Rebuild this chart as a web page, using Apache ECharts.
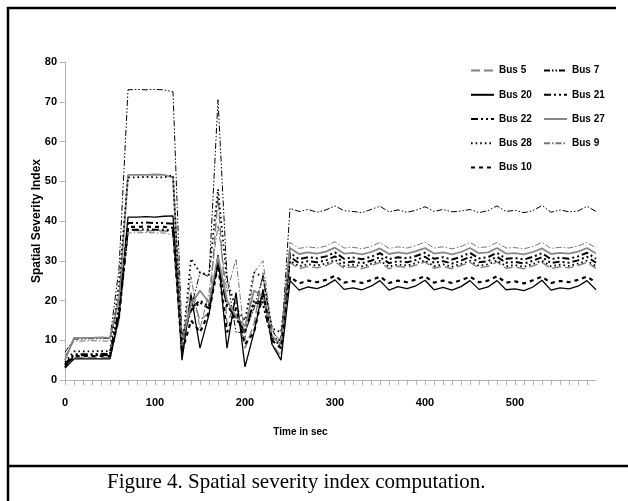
<!DOCTYPE html>
<html><head><meta charset="utf-8">
<script src="https://cdn.jsdelivr.net/npm/echarts@6/dist/echarts.min.js"></script>
<style>html,body{margin:0;padding:0;background:#fff}#c{width:628px;height:501px}</style>
</head><body><div id="c"></div>
<script>
const times = [0,10,20,30,40,50,60,70,80,90,100,110,120,130,140,150,160,170,180,190,200,210,220,230,240,
  250,260,270,280,290,300,310,320,330,340,350,360,370,380,390,400,410,420,430,440,450,460,470,480,490,
  500,510,520,530,540,550,560,570,580,590];
const yTicks = [0,10,20,30,40,50,60,70,80];
const xLabels = [0,100,200,300,400,500];

const bus5 = [3.5,5.6,5.6,5.7,5.6,5.6,15,37.6,37.6,37.5,37.6,37.5,37.2,
  6,22,15,17,46,14,20,8,14,27,9,6,
  29.6,28.0,28.6,28.2,28.8,29.8,28.1,28.5,28.0,28.7,29.6,28.0,28.6,28.3,28.9,29.7,28.1,28.6,28.0,28.8,29.6,28.2,28.6,29.7,28.1,28.4,28.0,28.7,29.6,28.0,28.5,28.2,28.8,29.6,28.1];
const bus7 = [7.0,10.3,10.3,10.4,10.4,10.5,28,73.0,73.1,73.0,73.1,73.0,72.5,
  11,18,27,26,70.5,26,12,12,18,26,13,8,
  43.2,42.4,42.9,42.2,42.8,43.8,42.6,42.4,42.1,42.9,43.7,42.3,42.8,42.2,42.7,43.6,42.4,42.9,42.3,42.5,42.9,42.1,42.6,43.8,42.4,42.7,42.1,42.6,43.9,42.2,42.8,42.3,42.5,43.7,42.4];
const bus20 = [3.0,5.3,5.3,5.3,5.3,5.3,16,41.0,41.0,41.1,41.0,41.2,41.3,
  5,21.5,8,16.5,31.5,8,22,3.3,12,22.8,9,5,
  25.0,22.6,23.4,23.0,23.8,25.2,22.8,23.2,22.7,23.6,25.0,22.6,23.5,23.0,23.7,25.1,22.7,23.3,22.6,23.5,25.0,22.8,23.4,25.0,22.7,22.9,22.5,23.4,25.1,22.6,23.2,22.9,23.6,25.0,22.7];
const bus21 = [4.0,6.5,6.5,6.5,6.6,6.5,18,39.5,39.5,39.6,39.5,39.5,39.3,
  10,18,20,18.5,30,19,15.5,12,20,19.5,10,9,
  32.0,30.4,30.9,30.6,31.1,32.1,30.5,30.8,30.4,31.0,31.9,30.4,30.9,30.6,31.2,32.0,30.5,30.9,30.3,31.0,32.0,30.6,30.9,32.0,30.5,30.7,30.3,31.0,31.9,30.4,30.8,30.5,31.1,32.0,30.5];
const bus22 = [3.8,6.2,6.2,6.2,6.3,6.2,17,37.8,37.8,37.9,37.8,37.8,37.6,
  10,17.5,19.5,18,29.5,18.5,16,12,19.5,19,10.5,10,
  31.0,29.4,29.9,29.6,30.1,31.1,29.5,29.8,29.4,30.0,30.9,29.4,29.9,29.6,30.2,31.0,29.5,29.9,29.3,30.0,31.0,29.6,29.9,31.0,29.5,29.7,29.3,30.0,30.9,29.4,29.8,29.5,30.1,31.0,29.5];
const bus27 = [5.0,10.6,10.6,10.6,10.7,10.6,20,51.6,51.6,51.6,51.7,51.6,51.0,
  9.5,19,22.5,19.5,31,20,16,13.5,22.5,21,11,9,
  33.2,31.7,32.1,31.8,32.3,33.3,31.8,32.0,31.6,32.2,33.1,31.7,32.1,31.8,32.4,33.2,31.8,32.1,31.6,32.2,33.2,31.9,32.1,33.2,31.8,31.9,31.6,32.2,33.1,31.7,32.0,31.8,32.3,33.2,31.8];
const bus28 = [4.5,7.2,7.2,7.2,7.3,7.2,24,51.0,51.0,51.1,51.0,51.0,51.5,
  7,30.5,27,26.5,48,25,18,15,27,26,13,12,
  30.0,28.6,29.1,28.8,29.3,30.2,28.7,29.0,28.6,29.2,30.0,28.5,29.1,28.8,29.4,30.1,28.6,29.1,28.5,29.2,30.0,28.7,29.1,30.1,28.6,28.9,28.5,29.2,30.0,28.6,29.0,28.7,29.3,30.0,28.6];
const bus9 = [6.0,9.8,9.8,9.9,9.8,9.8,22,37.0,37.0,37.1,37.0,37.0,36.5,
  8,26,13,22,39,22,30.5,10,27,30,12,10,
  34.6,33.1,33.5,33.2,33.7,34.8,33.2,33.4,33.0,33.6,34.6,33.1,33.5,33.2,33.8,34.7,33.2,33.5,33.0,33.6,34.6,33.3,33.5,34.6,33.2,33.3,33.0,33.6,34.6,33.1,33.4,33.2,33.7,34.6,33.2];
const bus10 = [3.2,6.0,6.0,6.0,6.1,6.0,16,38.5,38.5,38.6,38.5,38.5,38.3,
  7,15,12,17,29,12,18,9,12,22,10,8,
  26.0,24.3,25.0,24.6,25.2,26.2,24.5,24.9,24.4,25.1,26.0,24.4,25.0,24.6,25.3,26.1,24.5,25.0,24.4,25.1,26.0,24.6,25.0,26.1,24.5,24.8,24.3,25.1,26.0,24.4,24.9,24.6,25.2,26.0,24.5];

const FONT = "'Liberation Sans Narrow','Liberation Sans',sans-serif";
const pair = arr => times.map((t, i) => [t, arr[i]]);
function mk(name, arr, color, width, type) {
  return { name, type: 'line', data: pair(arr), symbol: 'none', showSymbol: false,
    lineStyle: { color, width, type }, itemStyle: { color }, z: 3 };
}
const series = [
  mk('Bus 5', bus5, '#808080', 1.4, [9, 4]),
  mk('Bus 7', bus7, '#000', 1, [6, 2, 1.5, 2, 1.5, 2]),
  mk('Bus 20', bus20, '#000', 1.3, 'solid'),
  mk('Bus 21', bus21, '#000', 2, [7, 3, 2, 3, 2, 3]),
  mk('Bus 22', bus22, '#000', 2, [7, 3, 2, 3, 2, 3]),
  mk('Bus 27', bus27, '#888', 1.8, 'solid'),
  mk('Bus 28', bus28, '#000', 1.8, [1.6, 3]),
  mk('Bus 9', bus9, '#777', 1, [6, 2, 1.5, 2]),
  mk('Bus 10', bus10, '#000', 2.2, [4, 4])
];

const chart = echarts.init(document.getElementById('c'), null, { renderer: 'canvas' });
const legendCommon = { orient: 'vertical', itemWidth: 23, itemHeight: 14, itemGap: 13, padding: 0,
  itemStyle: { opacity: 0, borderWidth: 0 },
  textStyle: { fontFamily: FONT, fontWeight: 'bold', fontSize: 10, color: '#000' } };
chart.setOption({
  animation: false,
  backgroundColor: '#fff',
  grid: { left: 65, right: 32, top: 62, bottom: 121, containLabel: false },
  legend: [
    Object.assign({ left: 470, top: 65, data: ['Bus 5', 'Bus 20', 'Bus 22', 'Bus 28', 'Bus 10'] }, legendCommon),
    Object.assign({ left: 543, top: 65, data: ['Bus 7', 'Bus 21', 'Bus 27', 'Bus 9'] }, legendCommon)
  ],
  title: {
    text: 'Figure 4. Spatial severity index computation.',
    left: 107, top: 472, padding: 0,
    textStyle: { fontFamily: "'Liberation Serif','Times New Roman',serif", fontWeight: 'normal', fontSize: 21, color: '#000' }
  },
  xAxis: {
    type: 'value', min: 0, max: 590, interval: 10,
    name: 'Time in sec', nameLocation: 'middle', nameGap: 47,
    nameTextStyle: { fontFamily: FONT, fontWeight: 'bold', fontSize: 10, color: '#000', padding: [0, 60, 0, 0] },
    axisLine: { show: true, lineStyle: { color: '#b3b3b3', width: 1 } },
    axisTick: { show: true, length: 5, inside: false, lineStyle: { color: '#b3b3b3' } },
    axisLabel: { margin: 17, fontFamily: FONT, fontWeight: 'bold', fontSize: 11, color: '#000',
      formatter: v => (xLabels.indexOf(v) >= 0 ? String(v) : ''), showMaxLabel: false },
    splitLine: { show: false }
  },
  yAxis: {
    type: 'value', min: 0, max: 80, interval: 10,
    name: 'Spatial Severity Index', nameLocation: 'middle', nameGap: 22, nameMoveOverlap: false,
    nameTextStyle: { fontFamily: FONT, fontWeight: 'bold', fontSize: 12, color: '#000' },
    axisLine: { show: true, lineStyle: { color: '#b3b3b3', width: 1 } },
    axisTick: { show: true, length: 5, lineStyle: { color: '#b3b3b3' } },
    axisLabel: { margin: 8, fontFamily: FONT, fontWeight: 'bold', fontSize: 11, color: '#000',
      formatter: v => (yTicks.indexOf(v) >= 0 ? String(v) : '') },
    splitLine: { show: false }
  },
  graphic: [
    { type: 'line', shape: { x1: 7, y1: 8, x2: 616, y2: 8 }, style: { stroke: '#000', lineWidth: 2.5 } },
    { type: 'line', shape: { x1: 8, y1: 7, x2: 8, y2: 501 }, style: { stroke: '#000', lineWidth: 2.5 } },
    { type: 'line', shape: { x1: 7, y1: 466, x2: 628, y2: 466 }, style: { stroke: '#000', lineWidth: 2.5 } }
  ],
  series
});
</script></body></html>
